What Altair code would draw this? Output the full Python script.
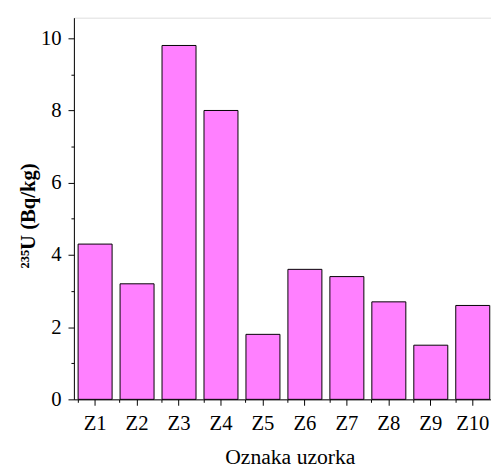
import altair as alt
import pandas as pd

samples = ["Z1", "Z2", "Z3", "Z4", "Z5", "Z6", "Z7", "Z8", "Z9", "Z10"]
u235 = [4.3, 3.2, 9.8, 8.0, 1.8, 3.6, 3.4, 2.7, 1.5, 2.6]
major_y = [0, 2, 4, 6, 8, 10]
minor_y = [1, 3, 5, 7, 9]

df = pd.DataFrame({"sample": samples, "value": u235})

FONT = "Liberation Serif"
xscale = alt.Scale(paddingInner=0.19, paddingOuter=0.1, range=[0, 427])
yscale = alt.Scale(domain=[0, 10.57], nice=False, zero=True)

bars = alt.Chart(df).mark_bar(color="#FF80FF", stroke="black", strokeWidth=1).encode(
    x=alt.X("sample:N", sort=samples, scale=xscale,
            axis=alt.Axis(title="Oznaka uzorka", labelAngle=0, orient="bottom",
                          tickSize=6, labelPadding=25, labelBaseline="alphabetic",
                          titleX=219.5, titleY=65, titleBaseline="alphabetic",
                          titleAlign="center", titleAnchor="middle",
                          labelFont=FONT, titleFont=FONT, labelFontSize=21, titleFontSize=22,
                          labelColor="black", titleColor="black", titleFontWeight="normal",
                          domainColor="black", tickColor="black", grid=False)),
    y=alt.Y("value:Q", scale=yscale,
            axis=alt.Axis(title="²³⁵U (Bq/kg)", values=major_y, orient="left",
                          tickSize=6, labelPadding=7,
                          titleX=-40, titleY=201, titleBaseline="alphabetic",
                          titleAlign="center", titleAngle=270,
                          labelFont=FONT, titleFont=FONT, labelFontSize=21, titleFontSize=21,
                          labelColor="black", titleColor="black", titleFontWeight="bold",
                          domainColor="black", tickColor="black", grid=False)),
)

minor = alt.Chart(df).mark_bar(opacity=0).encode(
    x=alt.X("sample:N", sort=samples, scale=xscale,
            axis=alt.Axis(title=None, labels=False, orient="bottom", bandPosition=0,
                          tickSize=3, domain=False, tickColor="black", grid=False)),
    y=alt.Y("value:Q", scale=yscale,
            axis=alt.Axis(title=None, labels=False, values=minor_y, orient="left",
                          tickSize=3, domain=False, tickColor="black", grid=False)),
)

chart = alt.layer(bars, minor).resolve_axis(x="independent", y="independent").properties(
    width=424, height=388,
    autosize=alt.AutoSizeParams(type="none"),
    padding={"left": 67, "top": 6, "right": 0, "bottom": 69},
).configure_view(stroke=None).configure(font=FONT)

chart.save("out.html", embed_options={"renderer": "svg", "actions": False})
